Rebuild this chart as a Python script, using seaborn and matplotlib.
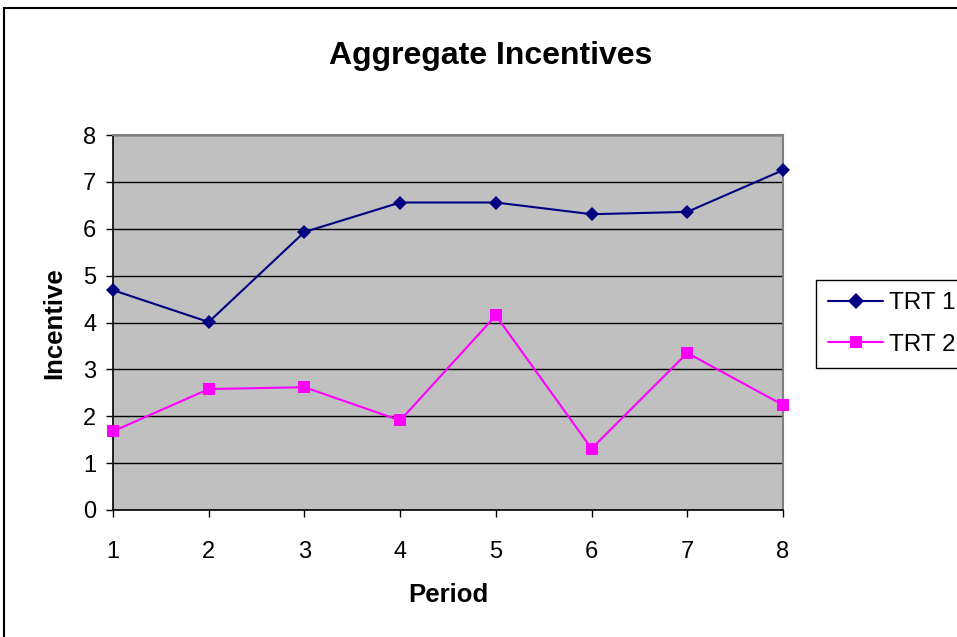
import matplotlib
matplotlib.use("Agg")
import matplotlib.pyplot as plt
from matplotlib.patches import Rectangle
import seaborn as sns
import pandas as pd

# Aggregate incentive per period for each treatment
periods = [1, 2, 3, 4, 5, 6, 7, 8]
trt1 = [4.69, 4.01, 5.93, 6.56, 6.56, 6.31, 6.36, 7.25]
trt2 = [1.68, 2.58, 2.62, 1.91, 4.15, 1.31, 3.35, 2.24]
series_names = ["TRT 1", "TRT 2"]
y_ticks = [0, 1, 2, 3, 4, 5, 6, 7, 8]

df = pd.DataFrame({
    "Period": periods * 2,
    "Incentive": trt1 + trt2,
    "Treatment": [series_names[0]] * len(periods) + [series_names[1]] * len(periods),
})

sns.set_theme(style="white")
plt.rcParams["font.family"] = ["Liberation Sans", "DejaVu Sans"]
plt.rcParams.update({
    "text.color": "black",
    "axes.labelcolor": "black",
    "xtick.color": "black",
    "ytick.color": "black",
})

W, H = 957, 637
fig = plt.figure(figsize=(W / 100, H / 100), dpi=100)
fig.patch.set_facecolor("white")
ax = fig.add_axes([113 / W, 1 - 510 / H, (783 - 113) / W, (510 - 135) / H])
ax.set_facecolor("#C0C0C0")

palette = {"TRT 1": "#000080", "TRT 2": "#FF00FF"}
markers = {"TRT 1": "D", "TRT 2": "s"}
sns.lineplot(
    data=df, x="Period", y="Incentive", hue="Treatment", style="Treatment",
    palette=palette, markers=markers, dashes=False, linewidth=1.5,
    markersize=8.5, markeredgewidth=0, ax=ax, clip_on=False, zorder=5,
)
# diamonds drawn a little smaller than squares
for line in ax.get_lines():
    if line.get_marker() == "D":
        line.set_markersize(7)

ax.set_xlim(1, 8)
ax.set_ylim(0, 8)
ax.set_xticks(periods)
ax.set_yticks(y_ticks)
ax.yaxis.grid(True, color="black", linewidth=1)
ax.xaxis.grid(False)
ax.set_axisbelow(True)

for side in ["left", "bottom"]:
    ax.spines[side].set_color("black")
    ax.spines[side].set_linewidth(1.2)
for side in ["top", "right"]:
    ax.spines[side].set_color("#808080")
    ax.spines[side].set_linewidth(1.5)

ax.tick_params(axis="y", which="major", direction="out", length=5, width=1,
               color="black", labelsize=17, pad=7, left=True)
ax.tick_params(axis="x", which="major", direction="out", length=5, width=1,
               color="black", labelsize=17, pad=17, bottom=True)

ax.set_xlabel("Period", fontsize=18.5, fontweight="bold")
ax.set_ylabel("Incentive", fontsize=18.5, fontweight="bold")
ax.xaxis.set_label_coords(0.5, (510 - 602) / 375)
ax.xaxis.label.set_va("baseline")
ax.yaxis.set_label_coords((54 - 113) / 670, (510 - 323) / 375)
ax.yaxis.label.set_va("center")

fig.text(491 / W, 1 - 64 / H, "Aggregate Incentives", ha="center", va="baseline",
         fontsize=23, fontweight="bold")

sns.move_legend(
    ax, "upper left", bbox_to_anchor=(816 / W, 1 - 280 / H),
    bbox_transform=fig.transFigure, title=None, frameon=True, fontsize=17.5,
    handlelength=2.26, handletextpad=0.25, labelspacing=0.8, borderpad=0.5,
    borderaxespad=0, fancybox=False,
)
leg = ax.get_legend()
leg.get_frame().set_edgecolor("black")
leg.get_frame().set_linewidth(1)
leg.get_frame().set_facecolor("white")
leg.get_frame().set_alpha(1)

# chart-area frame
fig.patches.append(Rectangle((4 / W, -0.5), 2, 1.5 - 8 / H, transform=fig.transFigure,
                             fill=False, edgecolor="black", linewidth=1.5))

fig.savefig("out.png", dpi=100, facecolor="white")
